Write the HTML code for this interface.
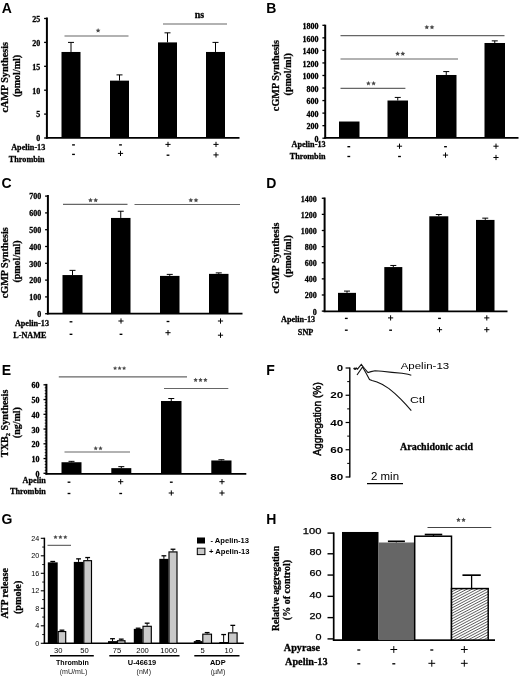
<!DOCTYPE html>
<html><head><meta charset="utf-8"><title>Figure</title>
<style>
html,body{margin:0;padding:0;background:#fff;}
body{width:520px;height:677px;overflow:hidden;font-family:"Liberation Sans",sans-serif;}
svg{display:block;filter:grayscale(1) blur(0.35px);}
</style></head><body>
<svg width="520" height="677" viewBox="0 0 520 677">
<rect width="520" height="677" fill="#fff"/>
<text x="1.7" y="12.9" font-family='"Liberation Sans", sans-serif' font-size="14" font-weight="bold">A</text>
<line x1="46.9" y1="17.5" x2="46.9" y2="138.7" stroke="#000" stroke-width="2.0"/>
<line x1="45.9" y1="137.8" x2="239.5" y2="137.8" stroke="#000" stroke-width="1.8"/>
<line x1="44.1" y1="138.0" x2="46.9" y2="138.0" stroke="#000" stroke-width="1.3"/>
<text x="40.2" y="141.3" font-family='"Liberation Serif", serif' font-size="8.0" font-weight="bold" text-anchor="end" fill="#000" stroke="#000" stroke-width="0.28">0</text>
<line x1="44.1" y1="114.1" x2="46.9" y2="114.1" stroke="#000" stroke-width="1.3"/>
<text x="40.2" y="117.39999999999999" font-family='"Liberation Serif", serif' font-size="8.0" font-weight="bold" text-anchor="end" fill="#000" stroke="#000" stroke-width="0.28">5</text>
<line x1="44.1" y1="90.19999999999999" x2="46.9" y2="90.19999999999999" stroke="#000" stroke-width="1.3"/>
<text x="40.2" y="93.49999999999999" font-family='"Liberation Serif", serif' font-size="8.0" font-weight="bold" text-anchor="end" fill="#000" stroke="#000" stroke-width="0.28">10</text>
<line x1="44.1" y1="66.3" x2="46.9" y2="66.3" stroke="#000" stroke-width="1.3"/>
<text x="40.2" y="69.6" font-family='"Liberation Serif", serif' font-size="8.0" font-weight="bold" text-anchor="end" fill="#000" stroke="#000" stroke-width="0.28">15</text>
<line x1="44.1" y1="42.39999999999999" x2="46.9" y2="42.39999999999999" stroke="#000" stroke-width="1.3"/>
<text x="40.2" y="45.69999999999999" font-family='"Liberation Serif", serif' font-size="8.0" font-weight="bold" text-anchor="end" fill="#000" stroke="#000" stroke-width="0.28">20</text>
<line x1="44.1" y1="18.5" x2="46.9" y2="18.5" stroke="#000" stroke-width="1.3"/>
<text x="40.2" y="21.8" font-family='"Liberation Serif", serif' font-size="8.0" font-weight="bold" text-anchor="end" fill="#000" stroke="#000" stroke-width="0.28">25</text>
<rect x="61.5" y="51.96" width="19.0" height="86.04" fill="#000"/>
<line x1="71.0" y1="42.4" x2="71.0" y2="51.96" stroke="#000" stroke-width="1"/>
<line x1="68.0" y1="42.4" x2="74.0" y2="42.4" stroke="#000" stroke-width="1"/>
<rect x="110" y="80.64" width="19" height="57.36" fill="#000"/>
<line x1="119.5" y1="74.9" x2="119.5" y2="80.64" stroke="#000" stroke-width="1"/>
<line x1="116.5" y1="74.9" x2="122.5" y2="74.9" stroke="#000" stroke-width="1"/>
<rect x="158" y="42.4" width="19" height="95.6" fill="#000"/>
<line x1="167.5" y1="32.84" x2="167.5" y2="42.4" stroke="#000" stroke-width="1"/>
<line x1="164.5" y1="32.84" x2="170.5" y2="32.84" stroke="#000" stroke-width="1"/>
<rect x="206" y="51.96" width="19" height="86.04" fill="#000"/>
<line x1="215.5" y1="42.4" x2="215.5" y2="51.96" stroke="#000" stroke-width="1"/>
<line x1="212.5" y1="42.4" x2="218.5" y2="42.4" stroke="#000" stroke-width="1"/>
<line x1="64.5" y1="36" x2="128.5" y2="36" stroke="#666" stroke-width="1.15"/>
<polygon points="98.10,28.10 98.81,29.63 100.48,29.83 99.24,30.97 99.57,32.62 98.10,31.80 96.63,32.62 96.96,30.97 95.72,29.83 97.39,29.63" fill="#4a4a4a"/>
<line x1="163" y1="24" x2="227" y2="24" stroke="#666" stroke-width="1.15"/>
<text x="199.5" y="18.3" font-family='"Liberation Serif", serif' font-size="10" font-weight="bold" text-anchor="middle" fill="#000" stroke="#000" stroke-width="0.28">ns</text>
<text x="8.0" y="77.3" font-family='"Liberation Serif", serif' font-size="10.2" font-weight="bold" text-anchor="middle" fill="#000" transform="rotate(-90 8.0 77.3)" stroke="#000" stroke-width="0.28">cAMP Synthesis</text>
<text x="19.8" y="76" font-family='"Liberation Serif", serif' font-size="10" font-weight="bold" text-anchor="middle" fill="#000" transform="rotate(-90 19.8 76)" stroke="#000" stroke-width="0.28">(pmol/ml)</text>
<text x="45.3" y="149.8" font-family='"Liberation Serif", serif' font-size="8.2" font-weight="bold" text-anchor="end" fill="#000" stroke="#000" stroke-width="0.28">Apelin-13</text>
<text x="44.6" y="162.3" font-family='"Liberation Serif", serif' font-size="8.2" font-weight="bold" text-anchor="end" fill="#000" stroke="#000" stroke-width="0.28">Thrombin</text>
<line x1="72.1" y1="144.9" x2="74.9" y2="144.9" stroke="#000" stroke-width="1.35"/>
<line x1="119.1" y1="144.9" x2="121.9" y2="144.9" stroke="#000" stroke-width="1.35"/>
<line x1="165.4" y1="144.4" x2="170.6" y2="144.4" stroke="#000" stroke-width="1.0"/>
<line x1="168" y1="141.8" x2="168" y2="147.0" stroke="#000" stroke-width="1.0"/>
<line x1="213.4" y1="144.4" x2="218.6" y2="144.4" stroke="#000" stroke-width="1.0"/>
<line x1="216" y1="141.8" x2="216" y2="147.0" stroke="#000" stroke-width="1.0"/>
<line x1="72.1" y1="154.4" x2="74.9" y2="154.4" stroke="#000" stroke-width="1.35"/>
<line x1="117.9" y1="153.4" x2="123.1" y2="153.4" stroke="#000" stroke-width="1.0"/>
<line x1="120.5" y1="150.8" x2="120.5" y2="156.0" stroke="#000" stroke-width="1.0"/>
<line x1="166.6" y1="155.2" x2="169.4" y2="155.2" stroke="#000" stroke-width="1.35"/>
<line x1="213.4" y1="154.9" x2="218.6" y2="154.9" stroke="#000" stroke-width="1.0"/>
<line x1="216" y1="152.3" x2="216" y2="157.5" stroke="#000" stroke-width="1.0"/>
<text x="266.3" y="12.9" font-family='"Liberation Sans", sans-serif' font-size="14" font-weight="bold">B</text>
<line x1="325.2" y1="24.7" x2="325.2" y2="138.70000000000002" stroke="#000" stroke-width="2.0"/>
<line x1="324.2" y1="137.9" x2="518.5" y2="137.9" stroke="#000" stroke-width="1.8"/>
<line x1="322.4" y1="138.2" x2="325.2" y2="138.2" stroke="#000" stroke-width="1.3"/>
<text x="318.5" y="141.89999999999998" font-family='"Liberation Serif", serif' font-size="8.0" font-weight="bold" text-anchor="end" fill="#000" stroke="#000" stroke-width="0.28">0</text>
<line x1="322.4" y1="125.66" x2="325.2" y2="125.66" stroke="#000" stroke-width="1.3"/>
<text x="318.5" y="129.35999999999999" font-family='"Liberation Serif", serif' font-size="8.0" font-weight="bold" text-anchor="end" fill="#000" stroke="#000" stroke-width="0.28">200</text>
<line x1="322.4" y1="113.11" x2="325.2" y2="113.11" stroke="#000" stroke-width="1.3"/>
<text x="318.5" y="116.81" font-family='"Liberation Serif", serif' font-size="8.0" font-weight="bold" text-anchor="end" fill="#000" stroke="#000" stroke-width="0.28">400</text>
<line x1="322.4" y1="100.57" x2="325.2" y2="100.57" stroke="#000" stroke-width="1.3"/>
<text x="318.5" y="104.27" font-family='"Liberation Serif", serif' font-size="8.0" font-weight="bold" text-anchor="end" fill="#000" stroke="#000" stroke-width="0.28">600</text>
<line x1="322.4" y1="88.02" x2="325.2" y2="88.02" stroke="#000" stroke-width="1.3"/>
<text x="318.5" y="91.72" font-family='"Liberation Serif", serif' font-size="8.0" font-weight="bold" text-anchor="end" fill="#000" stroke="#000" stroke-width="0.28">800</text>
<line x1="322.4" y1="75.48" x2="325.2" y2="75.48" stroke="#000" stroke-width="1.3"/>
<text x="318.5" y="79.18" font-family='"Liberation Serif", serif' font-size="8.0" font-weight="bold" text-anchor="end" fill="#000" stroke="#000" stroke-width="0.28">1000</text>
<line x1="322.4" y1="62.94" x2="325.2" y2="62.94" stroke="#000" stroke-width="1.3"/>
<text x="318.5" y="66.64" font-family='"Liberation Serif", serif' font-size="8.0" font-weight="bold" text-anchor="end" fill="#000" stroke="#000" stroke-width="0.28">1200</text>
<line x1="322.4" y1="50.39" x2="325.2" y2="50.39" stroke="#000" stroke-width="1.3"/>
<text x="318.5" y="54.09" font-family='"Liberation Serif", serif' font-size="8.0" font-weight="bold" text-anchor="end" fill="#000" stroke="#000" stroke-width="0.28">1400</text>
<line x1="322.4" y1="37.85" x2="325.2" y2="37.85" stroke="#000" stroke-width="1.3"/>
<text x="318.5" y="41.550000000000004" font-family='"Liberation Serif", serif' font-size="8.0" font-weight="bold" text-anchor="end" fill="#000" stroke="#000" stroke-width="0.28">1600</text>
<line x1="322.4" y1="25.3" x2="325.2" y2="25.3" stroke="#000" stroke-width="1.3"/>
<text x="318.5" y="29.0" font-family='"Liberation Serif", serif' font-size="8.0" font-weight="bold" text-anchor="end" fill="#000" stroke="#000" stroke-width="0.28">1800</text>
<rect x="339" y="121.52" width="20.5" height="16.38" fill="#000"/>
<rect x="387.5" y="100.51" width="20.5" height="37.39" fill="#000"/>
<line x1="397.75" y1="97.43" x2="397.75" y2="100.51" stroke="#000" stroke-width="1"/>
<line x1="394.75" y1="97.43" x2="400.75" y2="97.43" stroke="#000" stroke-width="1"/>
<rect x="436" y="74.98" width="20.5" height="62.92" fill="#000"/>
<line x1="446.25" y1="71.59" x2="446.25" y2="74.98" stroke="#000" stroke-width="1"/>
<line x1="443.25" y1="71.59" x2="449.25" y2="71.59" stroke="#000" stroke-width="1"/>
<rect x="484.5" y="42.99" width="20.5" height="94.91" fill="#000"/>
<line x1="494.75" y1="40.86" x2="494.75" y2="42.99" stroke="#000" stroke-width="1"/>
<line x1="491.75" y1="40.86" x2="497.75" y2="40.86" stroke="#000" stroke-width="1"/>
<line x1="340.5" y1="35.6" x2="504.5" y2="35.6" stroke="#666" stroke-width="1.15"/>
<polygon points="426.80,24.80 427.51,26.33 429.18,26.53 427.94,27.67 428.27,29.32 426.80,28.50 425.33,29.32 425.66,27.67 424.42,26.53 426.09,26.33" fill="#4a4a4a"/>
<polygon points="432.00,24.80 432.71,26.33 434.38,26.53 433.14,27.67 433.47,29.32 432.00,28.50 430.53,29.32 430.86,27.67 429.62,26.53 431.29,26.33" fill="#4a4a4a"/>
<line x1="340.5" y1="59" x2="458" y2="59" stroke="#666" stroke-width="1.15"/>
<polygon points="397.60,51.30 398.31,52.83 399.98,53.03 398.74,54.17 399.07,55.82 397.60,55.00 396.13,55.82 396.46,54.17 395.22,53.03 396.89,52.83" fill="#4a4a4a"/>
<polygon points="402.80,51.30 403.51,52.83 405.18,53.03 403.94,54.17 404.27,55.82 402.80,55.00 401.33,55.82 401.66,54.17 400.42,53.03 402.09,52.83" fill="#4a4a4a"/>
<line x1="340.5" y1="88.3" x2="405.4" y2="88.3" stroke="#666" stroke-width="1.15"/>
<polygon points="368.40,80.90 369.11,82.43 370.78,82.63 369.54,83.77 369.87,85.42 368.40,84.60 366.93,85.42 367.26,83.77 366.02,82.63 367.69,82.43" fill="#4a4a4a"/>
<polygon points="373.60,80.90 374.31,82.43 375.98,82.63 374.74,83.77 375.07,85.42 373.60,84.60 372.13,85.42 372.46,83.77 371.22,82.63 372.89,82.43" fill="#4a4a4a"/>
<text x="278.9" y="75.6" font-family='"Liberation Serif", serif' font-size="10.2" font-weight="bold" text-anchor="middle" fill="#000" transform="rotate(-90 278.9 75.6)" stroke="#000" stroke-width="0.28">cGMP Synthesis</text>
<text x="290.7" y="74.3" font-family='"Liberation Serif", serif' font-size="10" font-weight="bold" text-anchor="middle" fill="#000" transform="rotate(-90 290.7 74.3)" stroke="#000" stroke-width="0.28">(pmol/ml)</text>
<text x="325.6" y="147.2" font-family='"Liberation Serif", serif' font-size="8.2" font-weight="bold" text-anchor="end" fill="#000" stroke="#000" stroke-width="0.28">Apelin-13</text>
<text x="325.5" y="159.2" font-family='"Liberation Serif", serif' font-size="8.2" font-weight="bold" text-anchor="end" fill="#000" stroke="#000" stroke-width="0.28">Thrombin</text>
<line x1="347.40000000000003" y1="146.7" x2="350.2" y2="146.7" stroke="#000" stroke-width="1.35"/>
<line x1="396.9" y1="146.2" x2="402.1" y2="146.2" stroke="#000" stroke-width="1.0"/>
<line x1="399.5" y1="143.6" x2="399.5" y2="148.79999999999998" stroke="#000" stroke-width="1.0"/>
<line x1="444.1" y1="146.7" x2="446.9" y2="146.7" stroke="#000" stroke-width="1.35"/>
<line x1="493.4" y1="146.2" x2="498.6" y2="146.2" stroke="#000" stroke-width="1.0"/>
<line x1="496" y1="143.6" x2="496" y2="148.79999999999998" stroke="#000" stroke-width="1.0"/>
<line x1="347.40000000000003" y1="156.5" x2="350.2" y2="156.5" stroke="#000" stroke-width="1.35"/>
<line x1="398.1" y1="156.5" x2="400.9" y2="156.5" stroke="#000" stroke-width="1.35"/>
<line x1="442.9" y1="155.1" x2="448.1" y2="155.1" stroke="#000" stroke-width="1.0"/>
<line x1="445.5" y1="152.5" x2="445.5" y2="157.7" stroke="#000" stroke-width="1.0"/>
<line x1="493.4" y1="157.5" x2="498.6" y2="157.5" stroke="#000" stroke-width="1.0"/>
<line x1="496" y1="154.9" x2="496" y2="160.1" stroke="#000" stroke-width="1.0"/>
<text x="1.6" y="188.3" font-family='"Liberation Sans", sans-serif' font-size="14" font-weight="bold">C</text>
<line x1="47.9" y1="195" x2="47.9" y2="314.4" stroke="#000" stroke-width="2.0"/>
<line x1="46.9" y1="313.7" x2="242.5" y2="313.7" stroke="#000" stroke-width="1.8"/>
<line x1="45.1" y1="313.7" x2="47.9" y2="313.7" stroke="#000" stroke-width="1.3"/>
<text x="41.2" y="317.0" font-family='"Liberation Serif", serif' font-size="8.0" font-weight="bold" text-anchor="end" fill="#000" stroke="#000" stroke-width="0.28">0</text>
<line x1="45.1" y1="296.9" x2="47.9" y2="296.9" stroke="#000" stroke-width="1.3"/>
<text x="41.2" y="300.2" font-family='"Liberation Serif", serif' font-size="8.0" font-weight="bold" text-anchor="end" fill="#000" stroke="#000" stroke-width="0.28">100</text>
<line x1="45.1" y1="280.09999999999997" x2="47.9" y2="280.09999999999997" stroke="#000" stroke-width="1.3"/>
<text x="41.2" y="283.4" font-family='"Liberation Serif", serif' font-size="8.0" font-weight="bold" text-anchor="end" fill="#000" stroke="#000" stroke-width="0.28">200</text>
<line x1="45.1" y1="263.29999999999995" x2="47.9" y2="263.29999999999995" stroke="#000" stroke-width="1.3"/>
<text x="41.2" y="266.59999999999997" font-family='"Liberation Serif", serif' font-size="8.0" font-weight="bold" text-anchor="end" fill="#000" stroke="#000" stroke-width="0.28">300</text>
<line x1="45.1" y1="246.5" x2="47.9" y2="246.5" stroke="#000" stroke-width="1.3"/>
<text x="41.2" y="249.8" font-family='"Liberation Serif", serif' font-size="8.0" font-weight="bold" text-anchor="end" fill="#000" stroke="#000" stroke-width="0.28">400</text>
<line x1="45.1" y1="229.7" x2="47.9" y2="229.7" stroke="#000" stroke-width="1.3"/>
<text x="41.2" y="233.0" font-family='"Liberation Serif", serif' font-size="8.0" font-weight="bold" text-anchor="end" fill="#000" stroke="#000" stroke-width="0.28">500</text>
<line x1="45.1" y1="212.89999999999998" x2="47.9" y2="212.89999999999998" stroke="#000" stroke-width="1.3"/>
<text x="41.2" y="216.2" font-family='"Liberation Serif", serif' font-size="8.0" font-weight="bold" text-anchor="end" fill="#000" stroke="#000" stroke-width="0.28">600</text>
<line x1="45.1" y1="196.09999999999997" x2="47.9" y2="196.09999999999997" stroke="#000" stroke-width="1.3"/>
<text x="41.2" y="199.39999999999998" font-family='"Liberation Serif", serif' font-size="8.0" font-weight="bold" text-anchor="end" fill="#000" stroke="#000" stroke-width="0.28">700</text>
<rect x="62.5" y="275.06" width="20.0" height="38.64" fill="#000"/>
<line x1="72.5" y1="270.36" x2="72.5" y2="275.06" stroke="#000" stroke-width="1"/>
<line x1="69.5" y1="270.36" x2="75.5" y2="270.36" stroke="#000" stroke-width="1"/>
<rect x="111" y="217.94" width="19.5" height="95.76" fill="#000"/>
<line x1="120.75" y1="211.22" x2="120.75" y2="217.94" stroke="#000" stroke-width="1"/>
<line x1="117.75" y1="211.22" x2="123.75" y2="211.22" stroke="#000" stroke-width="1"/>
<rect x="160" y="275.9" width="19.5" height="37.8" fill="#000"/>
<line x1="169.75" y1="274.39" x2="169.75" y2="275.9" stroke="#000" stroke-width="1"/>
<line x1="166.75" y1="274.39" x2="172.75" y2="274.39" stroke="#000" stroke-width="1"/>
<rect x="209" y="273.88" width="19.5" height="39.82" fill="#000"/>
<line x1="218.75" y1="272.88" x2="218.75" y2="273.88" stroke="#000" stroke-width="1"/>
<line x1="215.75" y1="272.88" x2="221.75" y2="272.88" stroke="#000" stroke-width="1"/>
<line x1="63" y1="204.3" x2="127.5" y2="204.3" stroke="#666" stroke-width="1.15"/>
<polygon points="90.50,197.80 91.21,199.33 92.88,199.53 91.64,200.67 91.97,202.32 90.50,201.50 89.03,202.32 89.36,200.67 88.12,199.53 89.79,199.33" fill="#4a4a4a"/>
<polygon points="95.70,197.80 96.41,199.33 98.08,199.53 96.84,200.67 97.17,202.32 95.70,201.50 94.23,202.32 94.56,200.67 93.32,199.53 94.99,199.33" fill="#4a4a4a"/>
<line x1="134.5" y1="204.5" x2="240" y2="204.5" stroke="#666" stroke-width="1.15"/>
<polygon points="190.80,197.80 191.51,199.33 193.18,199.53 191.94,200.67 192.27,202.32 190.80,201.50 189.33,202.32 189.66,200.67 188.42,199.53 190.09,199.33" fill="#4a4a4a"/>
<polygon points="196.00,197.80 196.71,199.33 198.38,199.53 197.14,200.67 197.47,202.32 196.00,201.50 194.53,202.32 194.86,200.67 193.62,199.53 195.29,199.33" fill="#4a4a4a"/>
<text x="8.1" y="262.7" font-family='"Liberation Serif", serif' font-size="10.2" font-weight="bold" text-anchor="middle" fill="#000" transform="rotate(-90 8.1 262.7)" stroke="#000" stroke-width="0.28">cGMP Synthesis</text>
<text x="20.3" y="261.5" font-family='"Liberation Serif", serif' font-size="10" font-weight="bold" text-anchor="middle" fill="#000" transform="rotate(-90 20.3 261.5)" stroke="#000" stroke-width="0.28">(pmol/ml)</text>
<text x="49" y="326.4" font-family='"Liberation Serif", serif' font-size="8.2" font-weight="bold" text-anchor="end" fill="#000" stroke="#000" stroke-width="0.28">Apelin-13</text>
<text x="46.4" y="337.7" font-family='"Liberation Serif", serif' font-size="8.2" font-weight="bold" text-anchor="end" fill="#000" stroke="#000" stroke-width="0.28">L-NAME</text>
<line x1="69.6" y1="321.8" x2="72.4" y2="321.8" stroke="#000" stroke-width="1.35"/>
<line x1="118.4" y1="321" x2="123.6" y2="321" stroke="#000" stroke-width="1.0"/>
<line x1="121" y1="318.4" x2="121" y2="323.6" stroke="#000" stroke-width="1.0"/>
<line x1="166.6" y1="321.5" x2="169.4" y2="321.5" stroke="#000" stroke-width="1.35"/>
<line x1="217.9" y1="321" x2="223.1" y2="321" stroke="#000" stroke-width="1.0"/>
<line x1="220.5" y1="318.4" x2="220.5" y2="323.6" stroke="#000" stroke-width="1.0"/>
<line x1="69.6" y1="334.3" x2="72.4" y2="334.3" stroke="#000" stroke-width="1.35"/>
<line x1="119.6" y1="334.3" x2="122.4" y2="334.3" stroke="#000" stroke-width="1.35"/>
<line x1="165.4" y1="332.7" x2="170.6" y2="332.7" stroke="#000" stroke-width="1.0"/>
<line x1="168" y1="330.09999999999997" x2="168" y2="335.3" stroke="#000" stroke-width="1.0"/>
<line x1="217.9" y1="335.2" x2="223.1" y2="335.2" stroke="#000" stroke-width="1.0"/>
<line x1="220.5" y1="332.59999999999997" x2="220.5" y2="337.8" stroke="#000" stroke-width="1.0"/>
<text x="266.3" y="188.4" font-family='"Liberation Sans", sans-serif' font-size="14" font-weight="bold">D</text>
<line x1="324.6" y1="197.5" x2="324.6" y2="312.09999999999997" stroke="#000" stroke-width="2.0"/>
<line x1="323.6" y1="311.4" x2="507.5" y2="311.4" stroke="#000" stroke-width="1.8"/>
<line x1="321.8" y1="311.09999999999997" x2="324.6" y2="311.09999999999997" stroke="#000" stroke-width="1.3"/>
<text x="316.8" y="314.5" font-family='"Liberation Serif", serif' font-size="8.0" font-weight="bold" text-anchor="end" fill="#000" stroke="#000" stroke-width="0.28">0</text>
<line x1="321.8" y1="294.97999999999996" x2="324.6" y2="294.97999999999996" stroke="#000" stroke-width="1.3"/>
<text x="316.8" y="298.38" font-family='"Liberation Serif", serif' font-size="8.0" font-weight="bold" text-anchor="end" fill="#000" stroke="#000" stroke-width="0.28">200</text>
<line x1="321.8" y1="278.85999999999996" x2="324.6" y2="278.85999999999996" stroke="#000" stroke-width="1.3"/>
<text x="316.8" y="282.26" font-family='"Liberation Serif", serif' font-size="8.0" font-weight="bold" text-anchor="end" fill="#000" stroke="#000" stroke-width="0.28">400</text>
<line x1="321.8" y1="262.73999999999995" x2="324.6" y2="262.73999999999995" stroke="#000" stroke-width="1.3"/>
<text x="316.8" y="266.14" font-family='"Liberation Serif", serif' font-size="8.0" font-weight="bold" text-anchor="end" fill="#000" stroke="#000" stroke-width="0.28">600</text>
<line x1="321.8" y1="246.61999999999995" x2="324.6" y2="246.61999999999995" stroke="#000" stroke-width="1.3"/>
<text x="316.8" y="250.01999999999995" font-family='"Liberation Serif", serif' font-size="8.0" font-weight="bold" text-anchor="end" fill="#000" stroke="#000" stroke-width="0.28">800</text>
<line x1="321.8" y1="230.49999999999994" x2="324.6" y2="230.49999999999994" stroke="#000" stroke-width="1.3"/>
<text x="316.8" y="233.89999999999995" font-family='"Liberation Serif", serif' font-size="8.0" font-weight="bold" text-anchor="end" fill="#000" stroke="#000" stroke-width="0.28">1000</text>
<line x1="321.8" y1="214.37999999999997" x2="324.6" y2="214.37999999999997" stroke="#000" stroke-width="1.3"/>
<text x="316.8" y="217.77999999999997" font-family='"Liberation Serif", serif' font-size="8.0" font-weight="bold" text-anchor="end" fill="#000" stroke="#000" stroke-width="0.28">1200</text>
<line x1="321.8" y1="198.25999999999996" x2="324.6" y2="198.25999999999996" stroke="#000" stroke-width="1.3"/>
<text x="316.8" y="201.65999999999997" font-family='"Liberation Serif", serif' font-size="8.0" font-weight="bold" text-anchor="end" fill="#000" stroke="#000" stroke-width="0.28">1400</text>
<rect x="338" y="292.86" width="18" height="18.54" fill="#000"/>
<line x1="347.0" y1="291.09" x2="347.0" y2="292.86" stroke="#000" stroke-width="1"/>
<line x1="344.0" y1="291.09" x2="350.0" y2="291.09" stroke="#000" stroke-width="1"/>
<rect x="384.3" y="267.07" width="18.0" height="44.33" fill="#000"/>
<line x1="393.3" y1="265.46" x2="393.3" y2="267.07" stroke="#000" stroke-width="1"/>
<line x1="390.3" y1="265.46" x2="396.3" y2="265.46" stroke="#000" stroke-width="1"/>
<rect x="429.3" y="216.29" width="19.0" height="95.11" fill="#000"/>
<line x1="438.8" y1="214.52" x2="438.8" y2="216.29" stroke="#000" stroke-width="1"/>
<line x1="435.8" y1="214.52" x2="441.8" y2="214.52" stroke="#000" stroke-width="1"/>
<rect x="476" y="219.92" width="18.5" height="91.48" fill="#000"/>
<line x1="485.25" y1="218.15" x2="485.25" y2="219.92" stroke="#000" stroke-width="1"/>
<line x1="482.25" y1="218.15" x2="488.25" y2="218.15" stroke="#000" stroke-width="1"/>
<text x="278.8" y="258" font-family='"Liberation Serif", serif' font-size="10.2" font-weight="bold" text-anchor="middle" fill="#000" transform="rotate(-90 278.8 258)" stroke="#000" stroke-width="0.28">cGMP Synthesis</text>
<text x="290.6" y="256.3" font-family='"Liberation Serif", serif' font-size="10" font-weight="bold" text-anchor="middle" fill="#000" transform="rotate(-90 290.6 256.3)" stroke="#000" stroke-width="0.28">(pmol/ml)</text>
<text x="315.1" y="322" font-family='"Liberation Serif", serif' font-size="8.2" font-weight="bold" text-anchor="end" fill="#000" stroke="#000" stroke-width="0.28">Apelin-13</text>
<text x="313.3" y="334.6" font-family='"Liberation Serif", serif' font-size="8.2" font-weight="bold" text-anchor="end" fill="#000" stroke="#000" stroke-width="0.28">SNP</text>
<line x1="344.90000000000003" y1="318.4" x2="347.7" y2="318.4" stroke="#000" stroke-width="1.35"/>
<line x1="388.0" y1="317.9" x2="393.20000000000005" y2="317.9" stroke="#000" stroke-width="1.0"/>
<line x1="390.6" y1="315.29999999999995" x2="390.6" y2="320.5" stroke="#000" stroke-width="1.0"/>
<line x1="438.1" y1="318.4" x2="440.9" y2="318.4" stroke="#000" stroke-width="1.35"/>
<line x1="484.2" y1="317.9" x2="489.40000000000003" y2="317.9" stroke="#000" stroke-width="1.0"/>
<line x1="486.8" y1="315.29999999999995" x2="486.8" y2="320.5" stroke="#000" stroke-width="1.0"/>
<line x1="344.90000000000003" y1="330.2" x2="347.7" y2="330.2" stroke="#000" stroke-width="1.35"/>
<line x1="389.20000000000005" y1="330.2" x2="392.0" y2="330.2" stroke="#000" stroke-width="1.35"/>
<line x1="436.9" y1="329.7" x2="442.1" y2="329.7" stroke="#000" stroke-width="1.0"/>
<line x1="439.5" y1="327.09999999999997" x2="439.5" y2="332.3" stroke="#000" stroke-width="1.0"/>
<line x1="484.2" y1="329.7" x2="489.40000000000003" y2="329.7" stroke="#000" stroke-width="1.0"/>
<line x1="486.8" y1="327.09999999999997" x2="486.8" y2="332.3" stroke="#000" stroke-width="1.0"/>
<text x="1.7" y="375" font-family='"Liberation Sans", sans-serif' font-size="14" font-weight="bold">E</text>
<line x1="46.4" y1="383.9" x2="46.4" y2="474.6" stroke="#000" stroke-width="2.0"/>
<line x1="45.4" y1="473.90000000000003" x2="246.3" y2="473.90000000000003" stroke="#000" stroke-width="1.8"/>
<line x1="43.5" y1="473.3" x2="46.4" y2="473.3" stroke="#000" stroke-width="1.3"/>
<text x="39.4" y="476.90000000000003" font-family='"Liberation Serif", serif' font-size="8.0" font-weight="bold" text-anchor="end" fill="#000" stroke="#000" stroke-width="0.28">0</text>
<line x1="43.5" y1="458.55" x2="46.4" y2="458.55" stroke="#000" stroke-width="1.3"/>
<text x="39.4" y="462.15000000000003" font-family='"Liberation Serif", serif' font-size="8.0" font-weight="bold" text-anchor="end" fill="#000" stroke="#000" stroke-width="0.28">10</text>
<line x1="43.5" y1="443.8" x2="46.4" y2="443.8" stroke="#000" stroke-width="1.3"/>
<text x="39.4" y="447.40000000000003" font-family='"Liberation Serif", serif' font-size="8.0" font-weight="bold" text-anchor="end" fill="#000" stroke="#000" stroke-width="0.28">20</text>
<line x1="43.5" y1="429.05" x2="46.4" y2="429.05" stroke="#000" stroke-width="1.3"/>
<text x="39.4" y="432.65000000000003" font-family='"Liberation Serif", serif' font-size="8.0" font-weight="bold" text-anchor="end" fill="#000" stroke="#000" stroke-width="0.28">30</text>
<line x1="43.5" y1="414.3" x2="46.4" y2="414.3" stroke="#000" stroke-width="1.3"/>
<text x="39.4" y="417.90000000000003" font-family='"Liberation Serif", serif' font-size="8.0" font-weight="bold" text-anchor="end" fill="#000" stroke="#000" stroke-width="0.28">40</text>
<line x1="43.5" y1="399.55" x2="46.4" y2="399.55" stroke="#000" stroke-width="1.3"/>
<text x="39.4" y="403.15000000000003" font-family='"Liberation Serif", serif' font-size="8.0" font-weight="bold" text-anchor="end" fill="#000" stroke="#000" stroke-width="0.28">50</text>
<line x1="43.5" y1="384.8" x2="46.4" y2="384.8" stroke="#000" stroke-width="1.3"/>
<text x="39.4" y="388.40000000000003" font-family='"Liberation Serif", serif' font-size="8.0" font-weight="bold" text-anchor="end" fill="#000" stroke="#000" stroke-width="0.28">60</text>
<line x1="44.699999999999996" y1="470.35" x2="46.4" y2="470.35" stroke="#000" stroke-width="0.8"/>
<line x1="44.699999999999996" y1="467.4" x2="46.4" y2="467.4" stroke="#000" stroke-width="0.8"/>
<line x1="44.699999999999996" y1="464.45" x2="46.4" y2="464.45" stroke="#000" stroke-width="0.8"/>
<line x1="44.699999999999996" y1="461.5" x2="46.4" y2="461.5" stroke="#000" stroke-width="0.8"/>
<line x1="44.699999999999996" y1="455.6" x2="46.4" y2="455.6" stroke="#000" stroke-width="0.8"/>
<line x1="44.699999999999996" y1="452.65" x2="46.4" y2="452.65" stroke="#000" stroke-width="0.8"/>
<line x1="44.699999999999996" y1="449.7" x2="46.4" y2="449.7" stroke="#000" stroke-width="0.8"/>
<line x1="44.699999999999996" y1="446.75" x2="46.4" y2="446.75" stroke="#000" stroke-width="0.8"/>
<line x1="44.699999999999996" y1="440.85" x2="46.4" y2="440.85" stroke="#000" stroke-width="0.8"/>
<line x1="44.699999999999996" y1="437.9" x2="46.4" y2="437.9" stroke="#000" stroke-width="0.8"/>
<line x1="44.699999999999996" y1="434.95" x2="46.4" y2="434.95" stroke="#000" stroke-width="0.8"/>
<line x1="44.699999999999996" y1="432.0" x2="46.4" y2="432.0" stroke="#000" stroke-width="0.8"/>
<line x1="44.699999999999996" y1="426.1" x2="46.4" y2="426.1" stroke="#000" stroke-width="0.8"/>
<line x1="44.699999999999996" y1="423.15" x2="46.4" y2="423.15" stroke="#000" stroke-width="0.8"/>
<line x1="44.699999999999996" y1="420.2" x2="46.4" y2="420.2" stroke="#000" stroke-width="0.8"/>
<line x1="44.699999999999996" y1="417.25" x2="46.4" y2="417.25" stroke="#000" stroke-width="0.8"/>
<line x1="44.699999999999996" y1="411.35" x2="46.4" y2="411.35" stroke="#000" stroke-width="0.8"/>
<line x1="44.699999999999996" y1="408.4" x2="46.4" y2="408.4" stroke="#000" stroke-width="0.8"/>
<line x1="44.699999999999996" y1="405.45" x2="46.4" y2="405.45" stroke="#000" stroke-width="0.8"/>
<line x1="44.699999999999996" y1="402.5" x2="46.4" y2="402.5" stroke="#000" stroke-width="0.8"/>
<line x1="44.699999999999996" y1="396.6" x2="46.4" y2="396.6" stroke="#000" stroke-width="0.8"/>
<line x1="44.699999999999996" y1="393.65" x2="46.4" y2="393.65" stroke="#000" stroke-width="0.8"/>
<line x1="44.699999999999996" y1="390.7" x2="46.4" y2="390.7" stroke="#000" stroke-width="0.8"/>
<line x1="44.699999999999996" y1="387.75" x2="46.4" y2="387.75" stroke="#000" stroke-width="0.8"/>
<rect x="61.5" y="462.24" width="20.0" height="11.06" fill="#000"/>
<line x1="71.5" y1="461.35" x2="71.5" y2="462.24" stroke="#000" stroke-width="1"/>
<line x1="68.5" y1="461.35" x2="74.5" y2="461.35" stroke="#000" stroke-width="1"/>
<rect x="111.3" y="468.14" width="20.0" height="5.16" fill="#000"/>
<line x1="121.30000000000001" y1="466.66" x2="121.30000000000001" y2="468.14" stroke="#000" stroke-width="1"/>
<line x1="118.30000000000001" y1="466.66" x2="124.30000000000001" y2="466.66" stroke="#000" stroke-width="1"/>
<rect x="161" y="401.02" width="20.5" height="72.28" fill="#000"/>
<line x1="171.25" y1="398.52" x2="171.25" y2="401.02" stroke="#000" stroke-width="1"/>
<line x1="168.25" y1="398.52" x2="174.25" y2="398.52" stroke="#000" stroke-width="1"/>
<rect x="211.3" y="460.47" width="20.2" height="12.83" fill="#000"/>
<line x1="221.4" y1="459.73" x2="221.4" y2="460.47" stroke="#000" stroke-width="1"/>
<line x1="218.4" y1="459.73" x2="224.4" y2="459.73" stroke="#000" stroke-width="1"/>
<line x1="58.8" y1="376.8" x2="187" y2="376.8" stroke="#666" stroke-width="1.15"/>
<polygon points="115.10,366.10 115.72,367.45 117.19,367.62 116.10,368.63 116.39,370.08 115.10,369.36 113.81,370.08 114.10,368.63 113.01,367.62 114.48,367.45" fill="#4a4a4a"/>
<polygon points="119.60,366.10 120.22,367.45 121.69,367.62 120.60,368.63 120.89,370.08 119.60,369.36 118.31,370.08 118.60,368.63 117.51,367.62 118.98,367.45" fill="#4a4a4a"/>
<polygon points="124.10,366.10 124.72,367.45 126.19,367.62 125.10,368.63 125.39,370.08 124.10,369.36 122.81,370.08 123.10,368.63 122.01,367.62 123.48,367.45" fill="#4a4a4a"/>
<line x1="164" y1="388.5" x2="228.3" y2="388.5" stroke="#666" stroke-width="1.15"/>
<polygon points="195.60,377.65 196.26,379.09 197.83,379.27 196.67,380.35 196.98,381.90 195.60,381.13 194.22,381.90 194.53,380.35 193.37,379.27 194.94,379.09" fill="#4a4a4a"/>
<polygon points="200.50,377.65 201.16,379.09 202.73,379.27 201.57,380.35 201.88,381.90 200.50,381.13 199.12,381.90 199.43,380.35 198.27,379.27 199.84,379.09" fill="#4a4a4a"/>
<polygon points="205.40,377.65 206.06,379.09 207.63,379.27 206.47,380.35 206.78,381.90 205.40,381.13 204.02,381.90 204.33,380.35 203.17,379.27 204.74,379.09" fill="#4a4a4a"/>
<line x1="64.5" y1="452" x2="130" y2="452" stroke="#666" stroke-width="1.15"/>
<polygon points="95.70,446.10 96.35,447.51 97.89,447.69 96.75,448.74 97.05,450.26 95.70,449.50 94.35,450.26 94.65,448.74 93.51,447.69 95.05,447.51" fill="#4a4a4a"/>
<polygon points="100.50,446.10 101.15,447.51 102.69,447.69 101.55,448.74 101.85,450.26 100.50,449.50 99.15,450.26 99.45,448.74 98.31,447.69 99.85,447.51" fill="#4a4a4a"/>
<text x="8.1" y="423.4" font-family='"Liberation Serif", serif' font-size="10.2" font-weight="bold" text-anchor="middle" fill="#000" transform="rotate(-90 8.1 423.4)" stroke="#000" stroke-width="0.28">TXB<tspan font-size="6.5" dy="1.8">2</tspan><tspan dy="-1.8"> Synthesis</tspan></text>
<text x="20.3" y="422.6" font-family='"Liberation Serif", serif' font-size="10" font-weight="bold" text-anchor="middle" fill="#000" transform="rotate(-90 20.3 422.6)" stroke="#000" stroke-width="0.28">(ng/ml)</text>
<text x="45.8" y="482.9" font-family='"Liberation Serif", serif' font-size="8.2" font-weight="bold" text-anchor="end" fill="#000" stroke="#000" stroke-width="0.28">Apelin</text>
<text x="45.8" y="493.7" font-family='"Liberation Serif", serif' font-size="8.2" font-weight="bold" text-anchor="end" fill="#000" stroke="#000" stroke-width="0.28">Thrombin</text>
<line x1="67.6" y1="482.2" x2="70.4" y2="482.2" stroke="#000" stroke-width="1.35"/>
<line x1="118.10000000000001" y1="481.7" x2="123.3" y2="481.7" stroke="#000" stroke-width="1.0"/>
<line x1="120.7" y1="479.09999999999997" x2="120.7" y2="484.3" stroke="#000" stroke-width="1.0"/>
<line x1="169.9" y1="482.2" x2="172.70000000000002" y2="482.2" stroke="#000" stroke-width="1.35"/>
<line x1="219.4" y1="481.7" x2="224.6" y2="481.7" stroke="#000" stroke-width="1.0"/>
<line x1="222" y1="479.09999999999997" x2="222" y2="484.3" stroke="#000" stroke-width="1.0"/>
<line x1="67.6" y1="493.5" x2="70.4" y2="493.5" stroke="#000" stroke-width="1.35"/>
<line x1="119.3" y1="493.5" x2="122.10000000000001" y2="493.5" stroke="#000" stroke-width="1.35"/>
<line x1="168.70000000000002" y1="493" x2="173.9" y2="493" stroke="#000" stroke-width="1.0"/>
<line x1="171.3" y1="490.4" x2="171.3" y2="495.6" stroke="#000" stroke-width="1.0"/>
<line x1="219.4" y1="493" x2="224.6" y2="493" stroke="#000" stroke-width="1.0"/>
<line x1="222" y1="490.4" x2="222" y2="495.6" stroke="#000" stroke-width="1.0"/>
<text x="266.3" y="375" font-family='"Liberation Sans", sans-serif' font-size="14" font-weight="bold">F</text>
<line x1="349.8" y1="367.5" x2="349.8" y2="477.5" stroke="#000" stroke-width="1.4"/>
<line x1="345.6" y1="368.0" x2="349.8" y2="368.0" stroke="#000" stroke-width="1.2"/>
<text x="343.2" y="371.2" font-family='"Liberation Sans", sans-serif' font-size="9.8" font-weight="bold" text-anchor="end" fill="#000" textLength="6.4" lengthAdjust="spacingAndGlyphs">0</text>
<line x1="347.2" y1="381.62" x2="349.8" y2="381.62" stroke="#000" stroke-width="1"/>
<line x1="345.6" y1="395.25" x2="349.8" y2="395.25" stroke="#000" stroke-width="1.2"/>
<text x="343.2" y="398.45" font-family='"Liberation Sans", sans-serif' font-size="9.8" font-weight="bold" text-anchor="end" fill="#000" textLength="13.0" lengthAdjust="spacingAndGlyphs">20</text>
<line x1="347.2" y1="408.88" x2="349.8" y2="408.88" stroke="#000" stroke-width="1"/>
<line x1="345.6" y1="422.5" x2="349.8" y2="422.5" stroke="#000" stroke-width="1.2"/>
<text x="343.2" y="425.7" font-family='"Liberation Sans", sans-serif' font-size="9.8" font-weight="bold" text-anchor="end" fill="#000" textLength="13.0" lengthAdjust="spacingAndGlyphs">40</text>
<line x1="347.2" y1="436.12" x2="349.8" y2="436.12" stroke="#000" stroke-width="1"/>
<line x1="345.6" y1="449.75" x2="349.8" y2="449.75" stroke="#000" stroke-width="1.2"/>
<text x="343.2" y="452.95" font-family='"Liberation Sans", sans-serif' font-size="9.8" font-weight="bold" text-anchor="end" fill="#000" textLength="13.0" lengthAdjust="spacingAndGlyphs">60</text>
<line x1="347.2" y1="463.38" x2="349.8" y2="463.38" stroke="#000" stroke-width="1"/>
<line x1="345.6" y1="477.0" x2="349.8" y2="477.0" stroke="#000" stroke-width="1.2"/>
<text x="343.2" y="480.2" font-family='"Liberation Sans", sans-serif' font-size="9.8" font-weight="bold" text-anchor="end" fill="#000" textLength="13.0" lengthAdjust="spacingAndGlyphs">80</text>
<text x="321.0" y="419" font-family='"Liberation Sans", sans-serif' font-size="10.2" font-weight="normal" text-anchor="middle" fill="#000" transform="rotate(-90 321.0 419)" stroke="#000" stroke-width="0.45">Aggregation (%)</text>
<path d="M353.5,368.3 L355,369.3 L356.3,368 L357.5,369.2 L361.3,364.5 L364.5,368.5 L368,372.5 L371,371.6 L375,370.7 L382,371.3 L392,372.4 L402,373.3 L408,374.3 L411.3,375.2" fill="none" stroke="#111" stroke-width="1.1"/>
<line x1="353.9" y1="368.3" x2="356.4" y2="368.9" stroke="#111" stroke-width="1.9"/>
<path d="M357,375 L362.5,367 L366,373 L369.5,379.5 L372,380.5 L377,382 L382.5,384.6 L389,388.6 L395,393.7 L401,399.3 L406,404.6 L411.3,410.7" fill="none" stroke="#111" stroke-width="1.1"/>
<text x="400.7" y="368.7" font-family='"Liberation Sans", sans-serif' font-size="9.6" font-weight="normal" text-anchor="start" fill="#000" textLength="48.5" lengthAdjust="spacingAndGlyphs">Apelin-13</text>
<text x="410" y="403.2" font-family='"Liberation Sans", sans-serif' font-size="9.6" font-weight="normal" text-anchor="start" fill="#000" textLength="15" lengthAdjust="spacingAndGlyphs">Ctl</text>
<text x="400" y="449.6" font-family='"Liberation Serif", serif' font-size="10" font-weight="bold" text-anchor="start" fill="#000" stroke="#000" stroke-width="0.28">Arachidonic acid</text>
<text x="371" y="479.6" font-family='"Liberation Sans", sans-serif' font-size="10" font-weight="normal" text-anchor="start" fill="#000" textLength="28" lengthAdjust="spacingAndGlyphs">2 min</text>
<line x1="367" y1="483.6" x2="403" y2="483.6" stroke="#000" stroke-width="1.3"/>
<text x="1.6" y="524.4" font-family='"Liberation Sans", sans-serif' font-size="14" font-weight="bold">G</text>
<line x1="44.4" y1="537.7" x2="44.4" y2="643.9" stroke="#000" stroke-width="1.5"/>
<line x1="43.699999999999996" y1="643.3" x2="243.8" y2="643.3" stroke="#000" stroke-width="1.4"/>
<line x1="40.8" y1="643.3" x2="44.4" y2="643.3" stroke="#000" stroke-width="1.1"/>
<text x="39.3" y="645.5999999999999" font-family='"Liberation Sans", sans-serif' font-size="7.2" font-weight="normal" text-anchor="end" fill="#000">0</text>
<line x1="42.199999999999996" y1="634.55" x2="44.4" y2="634.55" stroke="#000" stroke-width="0.9"/>
<line x1="40.8" y1="625.8" x2="44.4" y2="625.8" stroke="#000" stroke-width="1.1"/>
<text x="39.3" y="628.0999999999999" font-family='"Liberation Sans", sans-serif' font-size="7.2" font-weight="normal" text-anchor="end" fill="#000">4</text>
<line x1="42.199999999999996" y1="617.05" x2="44.4" y2="617.05" stroke="#000" stroke-width="0.9"/>
<line x1="40.8" y1="608.3" x2="44.4" y2="608.3" stroke="#000" stroke-width="1.1"/>
<text x="39.3" y="610.5999999999999" font-family='"Liberation Sans", sans-serif' font-size="7.2" font-weight="normal" text-anchor="end" fill="#000">8</text>
<line x1="42.199999999999996" y1="599.55" x2="44.4" y2="599.55" stroke="#000" stroke-width="0.9"/>
<line x1="40.8" y1="590.8" x2="44.4" y2="590.8" stroke="#000" stroke-width="1.1"/>
<text x="39.3" y="593.0999999999999" font-family='"Liberation Sans", sans-serif' font-size="7.2" font-weight="normal" text-anchor="end" fill="#000">12</text>
<line x1="42.199999999999996" y1="582.05" x2="44.4" y2="582.05" stroke="#000" stroke-width="0.9"/>
<line x1="40.8" y1="573.3" x2="44.4" y2="573.3" stroke="#000" stroke-width="1.1"/>
<text x="39.3" y="575.5999999999999" font-family='"Liberation Sans", sans-serif' font-size="7.2" font-weight="normal" text-anchor="end" fill="#000">16</text>
<line x1="42.199999999999996" y1="564.55" x2="44.4" y2="564.55" stroke="#000" stroke-width="0.9"/>
<line x1="40.8" y1="555.8" x2="44.4" y2="555.8" stroke="#000" stroke-width="1.1"/>
<text x="39.3" y="558.0999999999999" font-family='"Liberation Sans", sans-serif' font-size="7.2" font-weight="normal" text-anchor="end" fill="#000">20</text>
<line x1="42.199999999999996" y1="547.05" x2="44.4" y2="547.05" stroke="#000" stroke-width="0.9"/>
<line x1="40.8" y1="538.3" x2="44.4" y2="538.3" stroke="#000" stroke-width="1.1"/>
<text x="39.3" y="540.5999999999999" font-family='"Liberation Sans", sans-serif' font-size="7.2" font-weight="normal" text-anchor="end" fill="#000">24</text>
<line x1="52.75" y1="561.49" x2="52.75" y2="562.36" stroke="#000" stroke-width="1"/>
<line x1="50.35" y1="561.49" x2="55.15" y2="561.49" stroke="#000" stroke-width="1.3"/>
<line x1="61.95" y1="630.17" x2="61.95" y2="631.05" stroke="#000" stroke-width="1"/>
<line x1="59.550000000000004" y1="630.17" x2="64.35000000000001" y2="630.17" stroke="#000" stroke-width="1.3"/>
<rect x="47.8" y="562.36" width="9.9" height="80.94" fill="#000"/>
<rect x="58.2" y="631.55" width="7.5" height="11.75" fill="#c9c9c9" stroke="#000" stroke-width="1.15"/>
<line x1="78.55" y1="558.86" x2="78.55" y2="561.92" stroke="#000" stroke-width="1"/>
<line x1="76.14999999999999" y1="558.86" x2="80.95" y2="558.86" stroke="#000" stroke-width="1.3"/>
<line x1="87.65" y1="557.55" x2="87.65" y2="560.17" stroke="#000" stroke-width="1"/>
<line x1="85.25" y1="557.55" x2="90.05000000000001" y2="557.55" stroke="#000" stroke-width="1.3"/>
<rect x="73.8" y="561.92" width="9.5" height="81.38" fill="#000"/>
<rect x="83.8" y="560.67" width="7.7" height="82.62" fill="#c9c9c9" stroke="#000" stroke-width="1.15"/>
<line x1="112.5" y1="638.71" x2="112.5" y2="641.11" stroke="#000" stroke-width="1"/>
<line x1="110.1" y1="638.71" x2="114.9" y2="638.71" stroke="#000" stroke-width="1.3"/>
<line x1="121.25" y1="639.14" x2="121.25" y2="640.24" stroke="#000" stroke-width="1"/>
<line x1="118.85" y1="639.14" x2="123.65" y2="639.14" stroke="#000" stroke-width="1.3"/>
<rect x="108" y="641.11" width="9" height="2.19" fill="#000"/>
<rect x="117.5" y="640.74" width="7.5" height="2.56" fill="#c9c9c9" stroke="#000" stroke-width="1.15"/>
<line x1="138.15" y1="628.21" x2="138.15" y2="628.86" stroke="#000" stroke-width="1"/>
<line x1="135.75" y1="628.21" x2="140.55" y2="628.21" stroke="#000" stroke-width="1.3"/>
<line x1="147.15" y1="623.17" x2="147.15" y2="625.8" stroke="#000" stroke-width="1"/>
<line x1="144.75" y1="623.17" x2="149.55" y2="623.17" stroke="#000" stroke-width="1.3"/>
<rect x="133.8" y="628.86" width="8.7" height="14.44" fill="#000"/>
<rect x="143.0" y="626.3" width="8.3" height="17.0" fill="#c9c9c9" stroke="#000" stroke-width="1.15"/>
<line x1="163.9" y1="555.8" x2="163.9" y2="558.86" stroke="#000" stroke-width="1"/>
<line x1="161.5" y1="555.8" x2="166.3" y2="555.8" stroke="#000" stroke-width="1.3"/>
<line x1="173.0" y1="549.24" x2="173.0" y2="551.42" stroke="#000" stroke-width="1"/>
<line x1="170.6" y1="549.24" x2="175.4" y2="549.24" stroke="#000" stroke-width="1.3"/>
<rect x="159.3" y="558.86" width="9.2" height="84.44" fill="#000"/>
<rect x="169.0" y="551.92" width="8.0" height="91.38" fill="#c9c9c9" stroke="#000" stroke-width="1.15"/>
<line x1="198.05" y1="640.67" x2="198.05" y2="641.11" stroke="#000" stroke-width="1"/>
<line x1="195.65" y1="640.67" x2="200.45000000000002" y2="640.67" stroke="#000" stroke-width="1.3"/>
<line x1="207.15" y1="632.58" x2="207.15" y2="633.67" stroke="#000" stroke-width="1"/>
<line x1="204.75" y1="632.58" x2="209.55" y2="632.58" stroke="#000" stroke-width="1.3"/>
<rect x="193.8" y="641.11" width="8.5" height="2.19" fill="#000"/>
<rect x="202.8" y="634.17" width="8.7" height="9.12" fill="#c9c9c9" stroke="#000" stroke-width="1.15"/>
<line x1="223.65" y1="634.55" x2="223.65" y2="641.99" stroke="#000" stroke-width="1"/>
<line x1="221.25" y1="634.55" x2="226.05" y2="634.55" stroke="#000" stroke-width="1.3"/>
<line x1="232.8" y1="625.36" x2="232.8" y2="632.36" stroke="#000" stroke-width="1"/>
<line x1="230.4" y1="625.36" x2="235.20000000000002" y2="625.36" stroke="#000" stroke-width="1.3"/>
<rect x="219.3" y="641.99" width="8.7" height="1.31" fill="#000"/>
<rect x="228.5" y="632.86" width="8.6" height="10.44" fill="#c9c9c9" stroke="#000" stroke-width="1.15"/>
<line x1="47.5" y1="545.3" x2="71" y2="545.3" stroke="#333" stroke-width="0.9"/>
<polygon points="55.50,534.90 56.15,536.31 57.69,536.49 56.55,537.54 56.85,539.06 55.50,538.30 54.15,539.06 54.45,537.54 53.31,536.49 54.85,536.31" fill="#4a4a4a"/>
<polygon points="60.40,534.90 61.05,536.31 62.59,536.49 61.45,537.54 61.75,539.06 60.40,538.30 59.05,539.06 59.35,537.54 58.21,536.49 59.75,536.31" fill="#4a4a4a"/>
<polygon points="65.30,534.90 65.95,536.31 67.49,536.49 66.35,537.54 66.65,539.06 65.30,538.30 63.95,539.06 64.25,537.54 63.11,536.49 64.65,536.31" fill="#4a4a4a"/>
<text x="58.3" y="653.4" font-family='"Liberation Sans", sans-serif' font-size="7.6" font-weight="normal" text-anchor="middle" fill="#000">30</text>
<text x="84.5" y="653.4" font-family='"Liberation Sans", sans-serif' font-size="7.6" font-weight="normal" text-anchor="middle" fill="#000">50</text>
<text x="117" y="653.4" font-family='"Liberation Sans", sans-serif' font-size="7.6" font-weight="normal" text-anchor="middle" fill="#000">75</text>
<text x="142.5" y="653.4" font-family='"Liberation Sans", sans-serif' font-size="7.6" font-weight="normal" text-anchor="middle" fill="#000">200</text>
<text x="168.8" y="653.4" font-family='"Liberation Sans", sans-serif' font-size="7.6" font-weight="normal" text-anchor="middle" fill="#000">1000</text>
<text x="202.5" y="653.4" font-family='"Liberation Sans", sans-serif' font-size="7.6" font-weight="normal" text-anchor="middle" fill="#000">5</text>
<text x="228.8" y="653.4" font-family='"Liberation Sans", sans-serif' font-size="7.6" font-weight="normal" text-anchor="middle" fill="#000">10</text>
<line x1="50" y1="655.8" x2="93.8" y2="655.8" stroke="#000" stroke-width="1.5"/>
<line x1="109.3" y1="655.8" x2="179.5" y2="655.8" stroke="#000" stroke-width="1.5"/>
<line x1="194.3" y1="655.8" x2="239.5" y2="655.8" stroke="#000" stroke-width="1.5"/>
<text x="72.4" y="664.7" font-family='"Liberation Sans", sans-serif' font-size="7.1" font-weight="bold" text-anchor="middle" fill="#000">Thrombin</text>
<text x="73.5" y="673.8" font-family='"Liberation Sans", sans-serif' font-size="7.1" font-weight="normal" text-anchor="middle" fill="#222">(mU/mL)</text>
<text x="142" y="664.7" font-family='"Liberation Sans", sans-serif' font-size="7.4" font-weight="bold" text-anchor="middle" fill="#000">U-46619</text>
<text x="143.8" y="673.8" font-family='"Liberation Sans", sans-serif' font-size="7.0" font-weight="normal" text-anchor="middle" fill="#222">(nM)</text>
<text x="217.8" y="664.7" font-family='"Liberation Sans", sans-serif' font-size="7.4" font-weight="bold" text-anchor="middle" fill="#000">ADP</text>
<text x="218" y="673.8" font-family='"Liberation Sans", sans-serif' font-size="7.1" font-weight="normal" text-anchor="middle" fill="#222">(µM)</text>
<text x="8.5" y="593.4" font-family='"Liberation Serif", serif' font-size="10" font-weight="bold" text-anchor="middle" fill="#000" transform="rotate(-90 8.5 593.4)" stroke="#000" stroke-width="0.28">ATP release</text>
<text x="20.7" y="597.4" font-family='"Liberation Serif", serif' font-size="10.2" font-weight="bold" text-anchor="middle" fill="#000" transform="rotate(-90 20.7 597.4)" stroke="#000" stroke-width="0.28">(pmole)</text>
<rect x="197" y="537.5" width="8" height="6.0" fill="#000"/>
<rect x="197.3" y="548.2" width="7.6" height="6.4" fill="#c9c9c9" stroke="#000" stroke-width="1"/>
<text x="210.5" y="543.2" font-family='"Liberation Sans", sans-serif' font-size="7.6" font-weight="bold" text-anchor="start" fill="#000">- Apelin-13</text>
<text x="209" y="553.9" font-family='"Liberation Sans", sans-serif' font-size="7.6" font-weight="bold" text-anchor="start" fill="#000">+ Apelin-13</text>
<text x="266.3" y="524.2" font-family='"Liberation Sans", sans-serif' font-size="14" font-weight="bold">H</text>
<line x1="333.7" y1="532.4" x2="333.7" y2="640.9" stroke="#000" stroke-width="1.7"/>
<line x1="332.9" y1="640.1" x2="495" y2="640.1" stroke="#000" stroke-width="1.7"/>
<line x1="327.5" y1="638.9" x2="333.7" y2="638.9" stroke="#000" stroke-width="1.4"/>
<text x="321.4" y="640.3" font-family='"Liberation Sans", sans-serif' font-size="8.3" font-weight="normal" text-anchor="end" fill="#000" stroke="#000" stroke-width="0.25" textLength="6.0" lengthAdjust="spacingAndGlyphs">0</text>
<line x1="327.5" y1="617.62" x2="333.7" y2="617.62" stroke="#000" stroke-width="1.4"/>
<text x="321.4" y="619.02" font-family='"Liberation Sans", sans-serif' font-size="8.3" font-weight="normal" text-anchor="end" fill="#000" stroke="#000" stroke-width="0.25" textLength="12.0" lengthAdjust="spacingAndGlyphs">20</text>
<line x1="327.5" y1="596.34" x2="333.7" y2="596.34" stroke="#000" stroke-width="1.4"/>
<text x="321.4" y="597.74" font-family='"Liberation Sans", sans-serif' font-size="8.3" font-weight="normal" text-anchor="end" fill="#000" stroke="#000" stroke-width="0.25" textLength="12.0" lengthAdjust="spacingAndGlyphs">40</text>
<line x1="327.5" y1="575.06" x2="333.7" y2="575.06" stroke="#000" stroke-width="1.4"/>
<text x="321.4" y="576.46" font-family='"Liberation Sans", sans-serif' font-size="8.3" font-weight="normal" text-anchor="end" fill="#000" stroke="#000" stroke-width="0.25" textLength="12.0" lengthAdjust="spacingAndGlyphs">60</text>
<line x1="327.5" y1="553.78" x2="333.7" y2="553.78" stroke="#000" stroke-width="1.4"/>
<text x="321.4" y="555.18" font-family='"Liberation Sans", sans-serif' font-size="8.3" font-weight="normal" text-anchor="end" fill="#000" stroke="#000" stroke-width="0.25" textLength="12.0" lengthAdjust="spacingAndGlyphs">80</text>
<line x1="327.5" y1="533.1" x2="333.7" y2="533.1" stroke="#000" stroke-width="1.4"/>
<text x="321.4" y="533.9" font-family='"Liberation Sans", sans-serif' font-size="8.3" font-weight="normal" text-anchor="end" fill="#000" stroke="#000" stroke-width="0.25" textLength="18.6" lengthAdjust="spacingAndGlyphs">100</text>
<rect x="342" y="531.97" width="36.5" height="108.13" fill="#000"/>
<line x1="396.4" y1="541.33" x2="396.4" y2="542.5" stroke="#000" stroke-width="1.3"/>
<line x1="387.9" y1="541.33" x2="404.9" y2="541.33" stroke="#000" stroke-width="1.7"/>
<rect x="378.5" y="542.5" width="36.2" height="97.6" fill="#666"/>
<line x1="433.5" y1="534.52" x2="433.5" y2="536.22" stroke="#000" stroke-width="1.3"/>
<line x1="424.75" y1="534.52" x2="442.25" y2="534.52" stroke="#000" stroke-width="1.7"/>
<rect x="414.7" y="536.22" width="36.8" height="103.88" fill="#fff" stroke="#000" stroke-width="1.5"/>
<line x1="471.6" y1="575.17" x2="471.6" y2="588.57" stroke="#000" stroke-width="1.3"/>
<line x1="462.45000000000005" y1="575.17" x2="480.75" y2="575.17" stroke="#000" stroke-width="1.7"/>
<clipPath id="hc"><rect x="451.5" y="588.57" width="36.69999999999999" height="51.53"/></clipPath>
<rect x="451.5" y="588.57" width="36.7" height="51.53" fill="#fff"/>
<g clip-path="url(#hc)" stroke="#555" stroke-width="0.95">
<line x1="451.5" y1="586.57" x2="488.2" y2="567.12"/>
<line x1="451.5" y1="589.27" x2="488.2" y2="569.82"/>
<line x1="451.5" y1="591.97" x2="488.2" y2="572.52"/>
<line x1="451.5" y1="594.67" x2="488.2" y2="575.22"/>
<line x1="451.5" y1="597.37" x2="488.2" y2="577.92"/>
<line x1="451.5" y1="600.07" x2="488.2" y2="580.62"/>
<line x1="451.5" y1="602.77" x2="488.2" y2="583.32"/>
<line x1="451.5" y1="605.47" x2="488.2" y2="586.02"/>
<line x1="451.5" y1="608.17" x2="488.2" y2="588.72"/>
<line x1="451.5" y1="610.87" x2="488.2" y2="591.42"/>
<line x1="451.5" y1="613.57" x2="488.2" y2="594.12"/>
<line x1="451.5" y1="616.27" x2="488.2" y2="596.82"/>
<line x1="451.5" y1="618.97" x2="488.2" y2="599.52"/>
<line x1="451.5" y1="621.67" x2="488.2" y2="602.22"/>
<line x1="451.5" y1="624.37" x2="488.2" y2="604.92"/>
<line x1="451.5" y1="627.07" x2="488.2" y2="607.62"/>
<line x1="451.5" y1="629.77" x2="488.2" y2="610.32"/>
<line x1="451.5" y1="632.47" x2="488.2" y2="613.02"/>
<line x1="451.5" y1="635.17" x2="488.2" y2="615.72"/>
<line x1="451.5" y1="637.87" x2="488.2" y2="618.42"/>
<line x1="451.5" y1="640.57" x2="488.2" y2="621.12"/>
<line x1="451.5" y1="643.27" x2="488.2" y2="623.82"/>
<line x1="451.5" y1="645.97" x2="488.2" y2="626.52"/>
<line x1="451.5" y1="648.67" x2="488.2" y2="629.22"/>
<line x1="451.5" y1="651.37" x2="488.2" y2="631.92"/>
<line x1="451.5" y1="654.07" x2="488.2" y2="634.62"/>
<line x1="451.5" y1="656.77" x2="488.2" y2="637.32"/>
<line x1="451.5" y1="659.47" x2="488.2" y2="640.02"/>
<line x1="451.5" y1="662.17" x2="488.2" y2="642.72"/>
</g>
<rect x="451.5" y="588.57" width="36.7" height="51.53" fill="none" stroke="#000" stroke-width="1.5"/>
<line x1="427.5" y1="527.5" x2="491.3" y2="527.5" stroke="#444" stroke-width="1"/>
<polygon points="458.45,517.55 459.14,519.05 460.78,519.24 459.57,520.36 459.89,521.98 458.45,521.18 457.01,521.98 457.33,520.36 456.12,519.24 457.76,519.05" fill="#4a4a4a"/>
<polygon points="463.55,517.55 464.24,519.05 465.88,519.24 464.67,520.36 464.99,521.98 463.55,521.18 462.11,521.98 462.43,520.36 461.22,519.24 462.86,519.05" fill="#4a4a4a"/>
<text x="278.5" y="588.5" font-family='"Liberation Serif", serif' font-size="9.7" font-weight="bold" text-anchor="middle" fill="#000" transform="rotate(-90 278.5 588.5)" stroke="#000" stroke-width="0.28">Relative  aggregation</text>
<text x="290.4" y="590" font-family='"Liberation Serif", serif' font-size="10" font-weight="bold" text-anchor="middle" fill="#000" transform="rotate(-90 290.4 590)" stroke="#000" stroke-width="0.28">(% of control)</text>
<text x="283.8" y="651.1" font-family='"Liberation Serif", serif' font-size="10.2" font-weight="bold" text-anchor="start" fill="#000" stroke="#000" stroke-width="0.28">Apyrase</text>
<text x="285.1" y="664.8" font-family='"Liberation Serif", serif' font-size="10.2" font-weight="bold" text-anchor="start" fill="#000" stroke="#000" stroke-width="0.28">Apelin-13</text>
<line x1="357.3" y1="650.0" x2="360.3" y2="650.0" stroke="#000" stroke-width="1.35"/>
<line x1="390.40000000000003" y1="649.5" x2="397.2" y2="649.5" stroke="#000" stroke-width="1.0"/>
<line x1="393.8" y1="646.1" x2="393.8" y2="652.9" stroke="#000" stroke-width="1.0"/>
<line x1="430.3" y1="650.0" x2="433.3" y2="650.0" stroke="#000" stroke-width="1.35"/>
<line x1="460.90000000000003" y1="649.5" x2="467.7" y2="649.5" stroke="#000" stroke-width="1.0"/>
<line x1="464.3" y1="646.1" x2="464.3" y2="652.9" stroke="#000" stroke-width="1.0"/>
<line x1="357.3" y1="663.8" x2="360.3" y2="663.8" stroke="#000" stroke-width="1.35"/>
<line x1="392.3" y1="663.8" x2="395.3" y2="663.8" stroke="#000" stroke-width="1.35"/>
<line x1="428.40000000000003" y1="663.3" x2="435.2" y2="663.3" stroke="#000" stroke-width="1.0"/>
<line x1="431.8" y1="659.9" x2="431.8" y2="666.6999999999999" stroke="#000" stroke-width="1.0"/>
<line x1="460.90000000000003" y1="663.3" x2="467.7" y2="663.3" stroke="#000" stroke-width="1.0"/>
<line x1="464.3" y1="659.9" x2="464.3" y2="666.6999999999999" stroke="#000" stroke-width="1.0"/>
</svg>
</body></html>
